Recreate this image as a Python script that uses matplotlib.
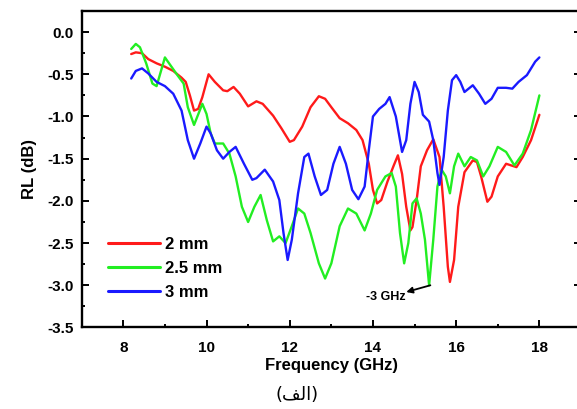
import matplotlib
matplotlib.use("Agg")
import matplotlib.pyplot as plt
from matplotlib.ticker import MultipleLocator

# ---- data ----
freq_2mm = [8.19, 8.3, 8.45, 8.6, 8.8, 9.0, 9.2, 9.4, 9.5, 9.6, 9.7, 9.8, 9.9, 10.05, 10.2, 10.4, 10.5,
            10.65, 10.8, 11.0, 11.2, 11.35, 11.6, 11.8, 12.0, 12.1, 12.3, 12.5, 12.7, 12.85, 13.0, 13.2,
            13.4, 13.6, 13.75, 13.9, 14.0, 14.1, 14.2, 14.35, 14.5, 14.6, 14.7, 14.8, 14.9, 14.95, 15.05,
            15.15, 15.3, 15.45, 15.6, 15.7, 15.8, 15.85, 15.95, 16.05, 16.2, 16.4, 16.5, 16.6, 16.75,
            16.85, 17.0, 17.2, 17.45, 17.6, 17.8, 18.0]
rl_2mm = [-0.26, -0.24, -0.25, -0.32, -0.37, -0.41, -0.46, -0.54, -0.59, -0.75, -0.93, -0.91, -0.77, -0.50,
          -0.59, -0.69, -0.70, -0.65, -0.73, -0.88, -0.82, -0.85, -0.99, -1.14, -1.30, -1.28, -1.12, -0.89,
          -0.76, -0.79, -0.89, -1.02, -1.08, -1.16, -1.28, -1.56, -1.87, -2.03, -1.99, -1.77, -1.58, -1.46,
          -1.68, -2.07, -2.35, -2.31, -1.99, -1.59, -1.40, -1.27, -1.48, -2.07, -2.78, -2.96, -2.70, -2.07,
          -1.66, -1.52, -1.54, -1.71, -2.01, -1.95, -1.71, -1.56, -1.60, -1.48, -1.28, -0.98]

freq_25mm = [8.19, 8.3, 8.4, 8.55, 8.7, 8.8, 8.9, 9.0, 9.1, 9.3, 9.45, 9.55, 9.7, 9.9, 10.0, 10.1, 10.2,
             10.4, 10.55, 10.7, 10.85, 11.0, 11.15, 11.3, 11.45, 11.6, 11.75, 11.9, 12.05, 12.2, 12.35,
             12.5, 12.7, 12.85, 13.0, 13.2, 13.4, 13.6, 13.8, 13.95, 14.1, 14.3, 14.45, 14.55, 14.65, 14.75,
             14.85, 14.95, 15.05, 15.15, 15.25, 15.35, 15.45, 15.55, 15.65, 15.75, 15.85, 15.95, 16.05,
             16.2, 16.35, 16.5, 16.65, 16.8, 17.0, 17.2, 17.4, 17.6, 17.8, 18.0]
rl_25mm = [-0.20, -0.14, -0.18, -0.37, -0.61, -0.64, -0.47, -0.30, -0.37, -0.51, -0.61, -0.89, -1.10, -0.85,
           -0.97, -1.20, -1.32, -1.32, -1.44, -1.71, -2.07, -2.25, -2.07, -1.93, -2.23, -2.48, -2.42, -2.50,
           -2.30, -2.09, -2.15, -2.38, -2.74, -2.92, -2.74, -2.30, -2.09, -2.15, -2.35, -2.15, -1.87, -1.71,
           -1.67, -1.83, -2.38, -2.74, -2.50, -2.03, -1.97, -2.15, -2.46, -3.00, -2.46, -1.83, -1.63, -1.71,
           -1.91, -1.59, -1.44, -1.59, -1.48, -1.52, -1.71, -1.59, -1.36, -1.42, -1.58, -1.44, -1.16, -0.75]

freq_3mm = [8.19, 8.3, 8.45, 8.6, 8.8, 9.0, 9.2, 9.4, 9.55, 9.7, 9.85, 10.0, 10.1, 10.25, 10.4, 10.55,
            10.7, 10.9, 11.1, 11.2, 11.4, 11.6, 11.75, 11.85, 11.95, 12.05, 12.2, 12.35, 12.45, 12.6,
            12.75, 12.9, 13.05, 13.2, 13.35, 13.5, 13.65, 13.8, 13.9, 14.0, 14.15, 14.3, 14.4, 14.55,
            14.7, 14.8, 14.9, 15.0, 15.1, 15.2, 15.35, 15.45, 15.55, 15.6, 15.7, 15.8, 15.9, 16.0, 16.1,
            16.2, 16.4, 16.55, 16.7, 16.85, 17.0, 17.2, 17.35, 17.5, 17.7, 17.9, 18.0]
rl_3mm = [-0.55, -0.46, -0.43, -0.49, -0.59, -0.64, -0.73, -0.93, -1.28, -1.50, -1.32, -1.12, -1.20, -1.40,
          -1.50, -1.42, -1.36, -1.56, -1.75, -1.73, -1.63, -1.77, -1.99, -2.38, -2.70, -2.46, -1.91, -1.48,
          -1.44, -1.71, -1.93, -1.87, -1.56, -1.36, -1.56, -1.87, -1.98, -1.83, -1.40, -1.00, -0.91, -0.85,
          -0.77, -1.00, -1.42, -1.28, -0.85, -0.59, -0.71, -0.98, -1.06, -1.28, -1.67, -1.81, -1.48, -0.93,
          -0.57, -0.51, -0.59, -0.71, -0.63, -0.73, -0.85, -0.79, -0.66, -0.66, -0.67, -0.59, -0.51, -0.35,
          -0.30]

series_labels = ["2 mm", "2.5 mm", "3 mm"]
x_ticks = [8, 10, 12, 14, 16, 18]
annot_text = "-3 GHz"
annot_point = (15.38, -3.0)
annot_text_pos = (14.78, -3.14)
caption = "(\uFED2\uFEDF\u0627)"  # (الف) in shaped visual order

plt.rcParams['font.family'] = ['Liberation Sans', 'DejaVu Sans']

fig = plt.figure(figsize=(5.77, 4.09), dpi=100)
ax = fig.add_axes([0.1416, 0.1993, 0.8653, 0.7738])

colors = ['#ff1a1a', '#22ee22', '#1a1aff']
for fx, ry, lab, c in zip([freq_2mm, freq_25mm, freq_3mm], [rl_2mm, rl_25mm, rl_3mm], series_labels, colors):
    ax.plot(fx, ry, color=c, lw=1.7, label=lab, solid_joinstyle='round', solid_capstyle='round')

ax.set_xlim(7, 19)
ax.set_ylim(-3.5, 0.25)
ax.set_xticks(x_ticks)
ax.xaxis.set_minor_locator(MultipleLocator(1))
ax.yaxis.set_major_locator(MultipleLocator(0.5))
ax.yaxis.set_minor_locator(MultipleLocator(0.25))
ax.yaxis.set_major_formatter(matplotlib.ticker.FormatStrFormatter('%.1f'))

for s in ax.spines.values():
    s.set_linewidth(1.7)
ax.tick_params(which='both', direction='in', width=1.4, right=True, top=False)
ax.tick_params(which='major', length=5, labelsize=11)
ax.tick_params(axis='y', which='major', pad=6)
ax.tick_params(axis='x', which='major', pad=10)
ax.tick_params(which='minor', length=2.5)
for lbl in ax.get_xticklabels() + ax.get_yticklabels():
    lbl.set_fontweight('bold')

ax.set_xlabel("Frequency (GHz)", fontsize=12, fontweight='bold', labelpad=2)
ax.set_ylabel("RL (dB)", fontsize=12, fontweight='bold', labelpad=7)

leg = ax.legend(loc='lower left', bbox_to_anchor=(0.04, 0.065), frameon=False,
                prop={'weight': 'bold', 'size': 12}, handlelength=3.1, handletextpad=0.3,
                labelspacing=0.55, borderaxespad=0)
for h in leg.get_lines():
    h.set_linewidth(2.2)

ax.annotate("", xy=(14.8, -3.08), xytext=annot_point,
            arrowprops=dict(arrowstyle='-|>', color='black', lw=1.3, mutation_scale=9,
                            shrinkA=0, shrinkB=0))
ax.text(annot_text_pos[0], annot_text_pos[1], annot_text, ha='right', va='center',
        fontsize=9, fontweight='bold')

fig.text(0.515, 0.034, caption, ha='center', va='center', fontsize=13, family=['DejaVu Sans'])

fig.savefig("out.png", dpi=100)
